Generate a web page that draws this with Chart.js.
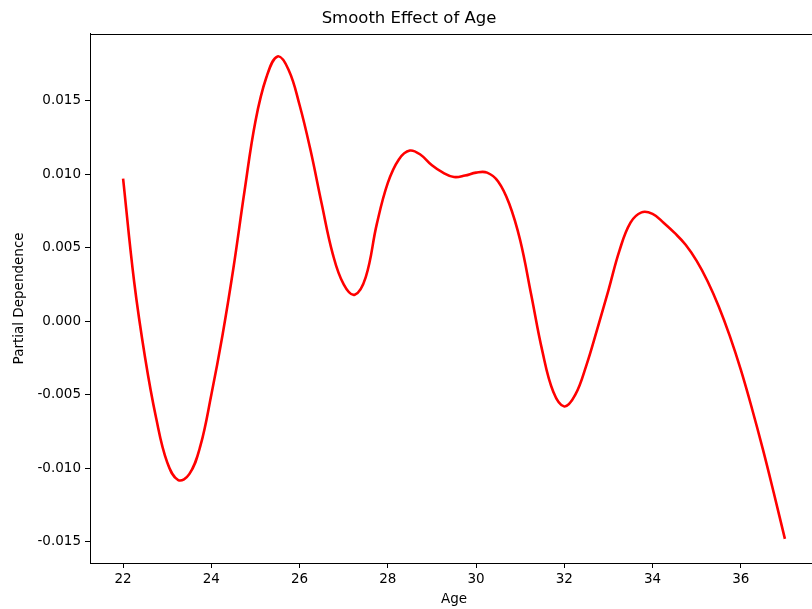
<!DOCTYPE html>
<html>
<head>
<meta charset="utf-8">
<title>Smooth Effect of Age</title>
<script src="https://cdn.jsdelivr.net/npm/chart.js@4"></script>
<style>
  html, body { margin: 0; padding: 0; background: #fff; overflow: hidden; }
  canvas { display: block; }
</style>
</head>
<body>
<canvas id="effectChart" width="830" height="609"></canvas>
<script>
// Partial dependence of the fitted smooth term on age
const ages = [
    22.00, 22.25, 22.50, 22.75, 23.00, 23.25, 23.50, 23.75, 24.00, 24.25,
    24.50, 24.75, 25.00, 25.25, 25.50, 25.75, 26.00, 26.25, 26.50, 26.75,
    27.00, 27.25, 27.50, 27.75, 28.00, 28.25, 28.50, 28.75, 29.00, 29.25,
    29.50, 29.75, 30.00, 30.25, 30.50, 30.75, 31.00, 31.25, 31.50, 31.75,
    32.00, 32.25, 32.50, 32.75, 33.00, 33.25, 33.50, 33.75, 34.00, 34.25,
    34.50, 34.75, 35.00, 35.25, 35.50, 35.75, 36.00, 36.25, 36.50, 36.75,
    37.00
];
const partialDependence = [
    0.0097, 0.0027, -0.0025, -0.0066, -0.0096, -0.0108, -0.0104, -0.0085, -0.0050, -0.0010,
    0.0036, 0.0088, 0.0136, 0.0166, 0.0180, 0.0171, 0.0147, 0.0116, 0.0080, 0.0046,
    0.0025, 0.0018, 0.0030, 0.0066, 0.0094, 0.0110, 0.0116, 0.0113, 0.0106, 0.0101,
    0.0098, 0.0099, 0.0101, 0.0101, 0.0095, 0.0080, 0.0055, 0.0018, -0.0020, -0.0048,
    -0.0058, -0.0050, -0.0030, -0.0005, 0.0021, 0.0048, 0.0067, 0.0074, 0.0073, 0.0067,
    0.0060, 0.0052, 0.0041, 0.0027, 0.0010, -0.0010, -0.0033, -0.0059, -0.0087, -0.0117,
    -0.0148
];
const xTicks = [22, 24, 26, 28, 30, 32, 34, 36];
const yTicks = [-0.015, -0.010, -0.005, 0.000, 0.005, 0.010, 0.015];

const FONT = "'DejaVu Sans', sans-serif";

// frame around the plotting area (top/right spines)
const frame = {
    id: 'frame',
    afterDraw(chart) {
        const { ctx, chartArea: a } = chart;
        ctx.save();
        ctx.strokeStyle = '#000';
        ctx.lineWidth = 1;
        ctx.strokeRect(Math.round(a.left) + 0.5, Math.round(a.top) + 0.5,
            Math.round(a.right - a.left), Math.round(a.bottom - a.top));
        ctx.restore();
    }
};

const ctx = document.getElementById('effectChart').getContext('2d');
new Chart(ctx, {
    type: 'line',
    data: {
        datasets: [{
            data: ages.map((a, i) => ({ x: a, y: partialDependence[i] })),
            borderColor: '#ff0000',
            borderWidth: 2.6,
            pointRadius: 0,
            fill: false,
            tension: 0.4
        }]
    },
    options: {
        responsive: false,
        animation: false,
        layout: { padding: { left: 0, right: 12, top: 0, bottom: 0 } },
        plugins: {
            legend: { display: false },
            tooltip: { enabled: false },
            title: {
                display: true,
                text: 'Smooth Effect of Age',
                color: '#000',
                font: { family: FONT, size: 16.5, weight: 'normal', lineHeight: 1.2 },
                padding: { top: 9, bottom: 5 }
            }
        },
        scales: {
            x: {
                type: 'linear',
                min: 21.25,
                max: 37.75,
                afterFit: s => { s.height = 46; },
                afterBuildTicks: s => { s.ticks = xTicks.map(v => ({ value: v })); },
                grid: { drawOnChartArea: false, tickLength: 5, tickColor: '#000' },
                border: { display: true, color: '#000', width: 1 },
                ticks: {
                    color: '#000',
                    padding: 3,
                    maxRotation: 0,
                    font: { family: FONT, size: 13.5 },
                    callback: v => String(v)
                },
                title: {
                    display: true,
                    text: 'Age',
                    color: '#000',
                    font: { family: FONT, size: 13.5, lineHeight: 1.2 },
                    padding: { top: 0, bottom: 1 }
                }
            },
            y: {
                min: -0.01644,
                max: 0.01954,
                afterFit: s => { s.width = 90; },
                afterBuildTicks: s => { s.ticks = yTicks.map(v => ({ value: v })); },
                grid: { drawOnChartArea: false, tickLength: 5, tickColor: '#000' },
                border: { display: true, color: '#000', width: 1 },
                ticks: {
                    color: '#000',
                    padding: 4,
                    font: { family: FONT, size: 13.5 },
                    callback: v => (Math.abs(v) < 1e-9 ? 0 : v).toFixed(3)
                },
                title: {
                    display: true,
                    text: 'Partial Dependence',
                    color: '#000',
                    font: { family: FONT, size: 13.5, lineHeight: 1.2 },
                    padding: { top: 11, bottom: 0 }
                }
            }
        }
    },
    plugins: [frame]
});
</script>
</body>
</html>
